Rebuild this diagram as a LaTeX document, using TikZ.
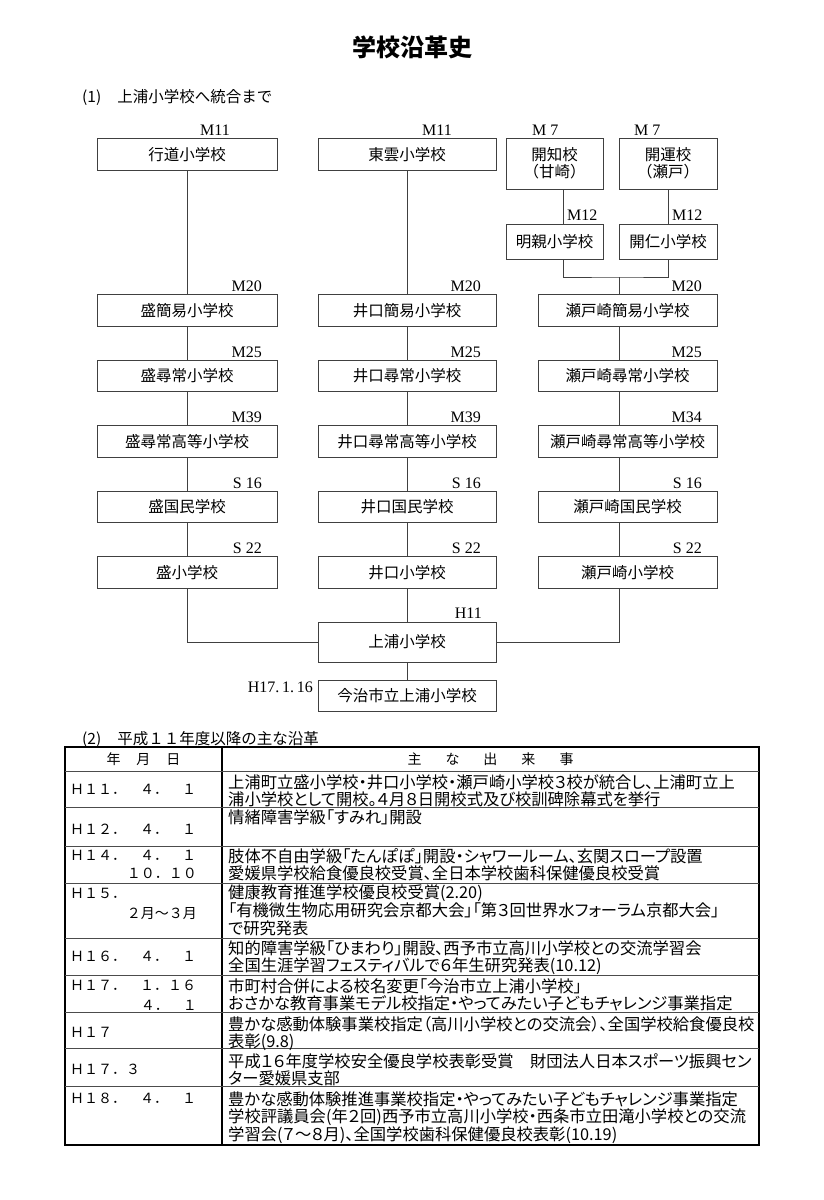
\documentclass[tikz,border=0pt]{standalone}
\usepackage{fontspec}
\setmainfont{Noto Sans CJK JP}
\newfontfamily\jpp[RawFeature=+palt]{Noto Sans CJK JP}
\newfontfamily\lab{Liberation Serif}
\newcommand\evfont{\jpp\fontsize{16.3}{17.6}\selectfont\lineskiplimit=-20pt\relax}
\usetikzlibrary{positioning}

\begin{document}
\begin{tikzpicture}[x=1pt, y=-1pt,
  font=\fontsize{15.5}{17}\selectfont,
  sch/.style={draw=black!75, line width=0.8pt, minimum height=31.5pt, inner sep=0pt, align=center},
  yr/.style={font=\lab\fontsize{16}{16}\selectfont, inner sep=0pt, anchor=base east},
  ln/.style={draw=black!75, line width=0.8pt},
  ev/.style={font=\evfont, inner sep=0pt, anchor=north west, align=left},
  dt/.style={font=\fontsize{14}{14}\selectfont, inner sep=0pt, anchor=base west},
  dr/.style={dt, anchor=base east}
]
  \useasboundingbox[fill=white] (0,0) rectangle (824,1200);

  \node[font=\fontsize{24}{24}\selectfont\bfseries] (title) at (412,47) {学校沿革史};
  \node[anchor=base west, inner sep=0pt] (sec1) at (82,102) {(1)\hspace{16pt}上浦小学校へ統合まで};

  % top row
  \node[sch, minimum width=180pt] (gyodo) at (187,154.5) {行道小学校};
  \node[sch, minimum width=178pt] (toun) at (407,154.5) {東雲小学校};
  \node[sch, minimum width=97pt, minimum height=51pt] (kaichi) at (554.5,163.5) {開知校\\（甘崎）};
  \node[sch, minimum width=98pt, minimum height=51pt] (kaiun) at (668,163.5) {開運校\\（瀬戸）};
  \node[sch, minimum width=97pt, minimum height=35pt] (meishin) at (554.5,241.5) {明親小学校};
  \node[sch, minimum width=98pt, minimum height=35pt] (kaijin) at (668,241.5) {開仁小学校};
  \node[yr, anchor=base west] (ygyodo) at (200,135) {M11};
  \node[yr, anchor=base west] (ytoun) at (422,135) {M11};
  \node[yr, anchor=base west] (ykaichi) at (532,135) {M 7};
  \node[yr, anchor=base west] (ykaiun) at (634,135) {M 7};
  \node[yr, anchor=base west] (ymeishin) at (567,220) {M12};
  \node[yr, anchor=base west] (ykaijin) at (672,220) {M12};

  % sakari
  \node[sch, minimum width=180pt] (s1) at (187,310.5) {盛簡易小学校};
  \node[sch, minimum width=180pt] (s2) at (187,376) {盛尋常小学校};
  \node[sch, minimum width=180pt] (s3) at (187,441.5) {盛尋常高等小学校};
  \node[sch, minimum width=180pt] (s4) at (187,507) {盛国民学校};
  \node[sch, minimum width=180pt] (s5) at (187,572.5) {盛小学校};
  % iguchi
  \node[sch, minimum width=178pt] (i1) at (407,310.5) {井口簡易小学校};
  \node[sch, minimum width=178pt] (i2) at (407,376) {井口尋常小学校};
  \node[sch, minimum width=178pt] (i3) at (407,441.5) {井口尋常高等小学校};
  \node[sch, minimum width=178pt] (i4) at (407,507) {井口国民学校};
  \node[sch, minimum width=178pt] (i5) at (407,572.5) {井口小学校};
  % setozaki
  \node[sch, minimum width=179pt] (t1) at (627.5,310.5) {瀬戸崎簡易小学校};
  \node[sch, minimum width=179pt] (t2) at (627.5,376) {瀬戸崎尋常小学校};
  \node[sch, minimum width=179pt] (t3) at (627.5,441.5) {瀬戸崎尋常高等小学校};
  \node[sch, minimum width=179pt] (t4) at (627.5,507) {瀬戸崎国民学校};
  \node[sch, minimum width=179pt] (t5) at (627.5,572.5) {瀬戸崎小学校};

  \node[yr] (ys1) at (262,291.75) {M20};
  \node[yr] (ys2) at (262,357.25) {M25};
  \node[yr] (ys3) at (262,422.75) {M39};
  \node[yr] (ys4) at (262,488.25) {S 16};
  \node[yr] (ys5) at (262,553.75) {S 22};
  \node[yr] (yi1) at (481,291.75) {M20};
  \node[yr] (yi2) at (481,357.25) {M25};
  \node[yr] (yi3) at (481,422.75) {M39};
  \node[yr] (yi4) at (481,488.25) {S 16};
  \node[yr] (yi5) at (481,553.75) {S 22};
  \node[yr] (yt1) at (702,291.75) {M20};
  \node[yr] (yt2) at (702,357.25) {M25};
  \node[yr] (yt3) at (702,422.75) {M34};
  \node[yr] (yt4) at (702,488.25) {S 16};
  \node[yr] (yt5) at (702,553.75) {S 22};

  \node[sch, minimum width=178pt, minimum height=40pt] (kamiura) at (407,642) {上浦小学校};
  \node[sch, minimum width=178pt, minimum height=31pt] (imabari) at (407,695.5) {今治市立上浦小学校};
  \node[yr] (ykamiura) at (482,618) {H11};
  \node[yr] (yimabari) at (313,692) {H17.\,1.\,16};

  % connectors
  \coordinate (xk) at (563,0);
  \coordinate (c3) at (619,277);
  \draw[ln] (kaichi.south -| xk) -- (meishin.north -| xk);
  \draw[ln] (kaiun.south) -- (kaijin.north);
  \draw[ln] (meishin.south -| xk) |- (c3) -| (kaijin.south);
  \draw[ln] (c3) -- (t1.north -| c3);
  \draw[ln] (gyodo) -- (s1);
  \draw[ln] (s1) -- (s2);
  \draw[ln] (s2) -- (s3);
  \draw[ln] (s3) -- (s4);
  \draw[ln] (s4) -- (s5);
  \draw[ln] (toun) -- (i1);
  \draw[ln] (i1) -- (i2);
  \draw[ln] (i2) -- (i3);
  \draw[ln] (i3) -- (i4);
  \draw[ln] (i4) -- (i5);
  \draw[ln] (i5) -- (kamiura);
  \draw[ln] (kamiura) -- (imabari);
  \draw[ln] (t1.south -| c3) -- (t2.north -| c3);
  \draw[ln] (t2.south -| c3) -- (t3.north -| c3);
  \draw[ln] (t3.south -| c3) -- (t4.north -| c3);
  \draw[ln] (t4.south -| c3) -- (t5.north -| c3);
  \draw[ln] (s5.south) |- (kamiura.west);
  \draw[ln] (kamiura.east) -| (t5.south -| c3);

  % table
  \node[anchor=base west, inner sep=0pt] (sec2) at (82,744) {(2)\hspace{16pt}平成１１年度以降の主な沿革};
  \draw[line width=1.4pt] (65,747) rectangle (759,1145);
  \draw[line width=1.4pt] (222,747) -- (222,1145);
  \foreach \y in {771,807,846,883,938,975,1012,1048,1086}
    \draw[line width=0.6pt, black!70] (65,\y) -- (759,\y);

  \node[font=\fontsize{14}{14}\selectfont] (hdate) at (143.5,759) {年\hspace{16pt}月\hspace{16pt}日};
  \node[font=\fontsize{14}{14}\selectfont] (hevent) at (490.5,759) {主\hspace{24pt}な\hspace{24pt}出\hspace{24pt}来\hspace{24pt}事};

  \node[dt] (d11) at (70,794.3) {Ｈ１１．　４．　１};
  \node[dt] (d12) at (70,834.3) {Ｈ１２．　４．　１};
  \node[dt] (d14) at (70,860.3) {Ｈ１４．　４．　１};
  \node[dr] (d14b) at (197,878.3) {１０．１０};
  \node[dt] (d15) at (70,898.3) {Ｈ１５．};
  \node[dr] (d15b) at (197,918.3) {２月～３月};
  \node[dt] (d16) at (70,961.3) {Ｈ１６．　４．　１};
  \node[dt] (d17) at (70,990.3) {Ｈ１７．　１．１６};
  \node[dr] (d17b) at (197,1010.3) {４．　１};
  \node[dt] (d17c) at (70,1037.3) {Ｈ１７};
  \node[dt] (d17d) at (70,1074.3) {Ｈ１７．３};
  \node[dt] (d18) at (70,1103.3) {Ｈ１８．　４．　１};

  \node[ev] (e11) at (228,774) {\strut 上浦町立盛小学校・井口小学校・瀬戸崎小学校３校が統合し、上浦町立上\\浦小学校として開校。４月８日開校式及び校訓碑除幕式を挙行};
  \node[ev] (e12) at (228,809) {\strut 情緒障害学級「すみれ」開設};
  \node[ev] (e14) at (228,848) {\strut 肢体不自由学級「たんぽぽ」開設・シャワールーム、玄関スロープ設置\\愛媛県学校給食優良校受賞、全日本学校歯科保健優良校受賞};
  \node[ev] (e15) at (228,885) {\strut 健康教育推進学校優良校受賞(2.20)\\「有機微生物応用研究会京都大会」「第３回世界水フォーラム京都大会」\\で研究発表};
  \node[ev] (e16) at (228,940) {\strut 知的障害学級「ひまわり」開設、西予市立高川小学校との交流学習会\\全国生涯学習フェスティバルで６年生研究発表(10.12)};
  \node[ev] (e17) at (228,978) {\strut 市町村合併による校名変更「今治市立上浦小学校」\\おさかな教育事業モデル校指定・やってみたい子どもチャレンジ事業指定};
  \node[ev] (e17c) at (228,1016) {\strut 豊かな感動体験事業校指定（高川小学校との交流会）、全国学校給食優良校\\表彰(9.8)};
  \node[ev] (e17d) at (228,1053) {\strut 平成１６年度学校安全優良学校表彰受賞　財団法人日本スポーツ振興セン\\ター愛媛県支部};
  \node[ev] (e18) at (228,1091) {\strut 豊かな感動体験推進事業校指定・やってみたい子どもチャレンジ事業指定\\学校評議員会(年２回)西予市立高川小学校・西条市立田滝小学校との交流\\学習会(７～８月)、全国学校歯科保健優良校表彰(10.19)};
\end{tikzpicture}
\end{document}
